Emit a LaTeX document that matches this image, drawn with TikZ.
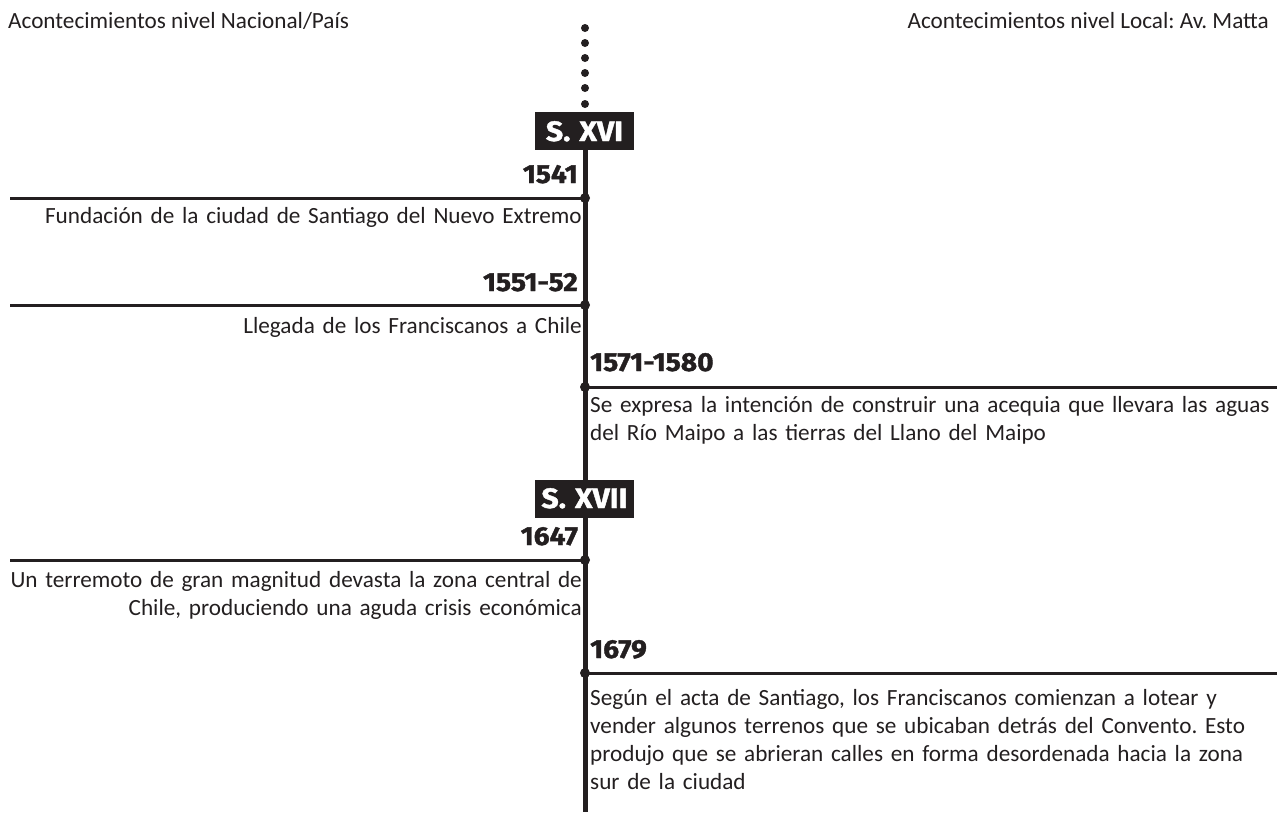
\documentclass[tikz,border=0pt]{standalone}
\usepackage{fontspec}
\setmainfont{Carlito}
\newfontfamily\headfont{Fira Sans}[FakeStretch=1.08,BoldFeatures={FakeBold=1.5}]
\definecolor{ink}{HTML}{231F20}
\frenchspacing
\begin{document}
\begin{tikzpicture}[x=1pt,y=-1pt,
  body/.style={font=\fontsize{23.2}{28}\selectfont, text=ink, inner sep=0pt},
  lefttext/.style={body, text width=600pt, align=right, anchor=base east},
  righttext/.style={body, text width=700pt, align=left, anchor=base west},
  year/.style={font=\headfont\bfseries\fontsize{26}{26}\selectfont, text=ink, inner sep=0pt},
  centurytext/.style={font=\headfont\bfseries\fontsize{28}{28}\selectfont, text=white, inner sep=0pt, anchor=base},
  century/.style={fill=ink, minimum width=99pt, minimum height=38pt, inner sep=0pt},
  axis/.style={draw=ink, line width=5pt},
  branch/.style={draw=ink, line width=3pt},
  junction/.style={circle, fill=ink, inner sep=0pt, minimum size=10pt},
  trail/.style={circle, fill=ink, inner sep=0pt, minimum size=8pt}]

\useasboundingbox (0,0) rectangle (1277,812);

% headers
\node[body, anchor=base west] (hleft) at (8,28) {Acontecimientos nivel Nacional/País};
\node[body, anchor=base east] (hright) at (1269,28) {Acontecimientos nivel Local: Av. Matta};

% dotted lead-in
\foreach \i/\yy in {1/28,2/43,3/58,4/73,5/88,6/104}
  \node[trail] (d\i) at (585,\yy) {};

% axis
\coordinate (axtop) at (585,131);
\coordinate (axbot) at (585,812);
\draw[axis] (axtop) -- (axbot);

% centuries
\node[century] (c16) at (584.5,131) {};
\node[centurytext] (c16t) at (584.5,141) {S.\kern9pt XVI};
\node[century] (c17) at (584.5,498.5) {};
\node[centurytext] (c17t) at (584.5,508) {S.\kern9pt XVII};

% junctions
\node[junction] (j1) at (585,198) {};
\node[junction] (j2) at (585,305) {};
\node[junction] (j3) at (585,387) {};
\node[junction] (j4) at (585,560) {};
\node[junction] (j5) at (585,673) {};

% branch ends
\coordinate (e1) at (10,198);
\coordinate (e2) at (10,305);
\coordinate (e3) at (1277,387);
\coordinate (e4) at (10,560);
\coordinate (e5) at (1277,673);

\draw[branch] (j1.center) -- (e1);
\draw[branch] (j2.center) -- (e2);
\draw[branch] (j3.center) -- (e3);
\draw[branch] (j4.center) -- (e4);
\draw[branch] (j5.center) -- (e5);

% years
\node[year, anchor=base east] (y1) at (578,183) {1541};
\node[year, anchor=base east] (y2) at (578,291) {1551-52};
\node[year, anchor=base west] (y3) at (590,371) {1571-1580};
\node[year, anchor=base east] (y4) at (578,545) {1647};
\node[year, anchor=base west] (y5) at (590,658) {1679};

% events
\node[lefttext] (t1) at (582,223) {Fundación de la ciudad de Santiago del Nuevo Extremo};
\node[lefttext] (t2) at (582,333) {Llegada de los Franciscanos a Chile};
\node[righttext] (t3) at (590,412) {Se expresa la intención de construir una acequia que llevara las aguas\\del Río Maipo a las tierras del Llano del Maipo};
\node[lefttext] (t4) at (582,587) {Un terremoto de gran magnitud devasta la zona central de\\Chile, produciendo una aguda crisis económica};
\node[righttext] (t5) at (590,705) {Según el acta de Santiago, los Franciscanos comienzan a lotear y\\vender algunos terrenos que se ubicaban detrás del Convento. Esto\\produjo que se abrieran calles en forma desordenada hacia la zona\\sur de la ciudad};
\end{tikzpicture}
\end{document}
